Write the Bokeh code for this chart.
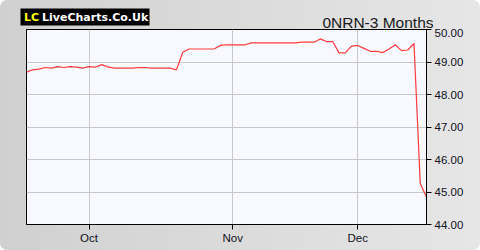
from bokeh.plotting import figure
from bokeh.layouts import column
from bokeh.models import FixedTicker, Range1d, PrintfTickFormatter
from bokeh.core.properties import value
from bokeh.embed import file_html
from bokeh.resources import INLINE

# Closing prices, one per trading day
prices = [
    48.69, 48.76, 48.78, 48.83, 48.81, 48.86, 48.83, 48.86, 48.84, 48.81,
    48.86, 48.84, 48.92, 48.85, 48.81, 48.81, 48.81, 48.81, 48.83, 48.83,
    48.81, 48.81, 48.81, 48.81, 48.76, 49.30, 49.40, 49.40, 49.40, 49.40,
    49.40, 49.51, 49.53, 49.53, 49.53, 49.53, 49.59, 49.59, 49.59, 49.59,
    49.59, 49.59, 49.59, 49.59, 49.61, 49.61, 49.61, 49.71, 49.63, 49.63,
    49.28, 49.28, 49.49, 49.51, 49.42, 49.33, 49.33, 49.29, 49.40, 49.53,
    49.35, 49.37, 49.57, 45.26, 44.84,
]
month_labels = ["Oct", "Nov", "Dec"]
month_first_index = [10, 33, 53]
price_ticks = [44, 45, 46, 47, 48, 49, 50]
title_text = "0NRN-3 Months"
logo_lc = "LC"
logo_name = "LiveCharts.Co.Uk"

x = list(range(len(prices)))

W = 480
HEAD_H = 28
MAIN_H = 250 - HEAD_H

# ---- header strip (pixel coordinates, y downward) ----
head = figure(width=W, height=HEAD_H, output_backend="svg", toolbar_location=None,
              x_range=Range1d(0, W), y_range=Range1d(HEAD_H, 0),
              x_axis_type=None, y_axis_type=None,
              min_border_left=0, min_border_right=0, min_border_top=0, min_border_bottom=0)
head.outline_line_color = None
head.background_fill_alpha = 0
head.border_fill_alpha = 0
head.xgrid.visible = False
head.ygrid.visible = False
head.quad(left=[20], right=[149], top=[8], bottom=[25], fill_color="black", line_color=None)
head.text(x=[23.5], y=[16.8], text=[logo_lc], text_color="#ffff00",
          text_font=value("DejaVu Sans"), text_font_style="bold",
          text_font_size=value("11px"), text_align="left", text_baseline="middle")
head.text(x=[41.5], y=[16.8], text=[logo_name], text_color="white",
          text_font=value("DejaVu Sans"), text_font_style="bold",
          text_font_size=value("11px"), text_align="left", text_baseline="middle")
head.text(x=[433], y=[21.5], text=[title_text], text_color="#1a1a1a",
          text_font=value("Liberation Sans"), text_font_size=value("15.5px"),
          text_align="right", text_baseline="alphabetic")

# ---- main chart ----
p = figure(width=W, height=MAIN_H, output_backend="svg", toolbar_location=None,
           x_range=Range1d(0, len(prices) - 1), y_range=Range1d(price_ticks[0], price_ticks[-1]),
           x_axis_location="below", y_axis_location="right",
           min_border_left=26, min_border_right=54, min_border_top=1, min_border_bottom=26)
p.border_fill_alpha = 0
p.background_fill_color = "#f8f8ff"
p.outline_line_color = "black"
p.outline_line_width = 1

p.line(x, prices, line_color="#ff3b3b", line_width=1.2)

p.xgrid.ticker = FixedTicker(ticks=month_first_index)
p.ygrid.ticker = FixedTicker(ticks=price_ticks)
p.xgrid.grid_line_color = "#c8c8c8"
p.ygrid.grid_line_color = "#c8c8c8"

xa = p.xaxis[0]
xa.ticker = FixedTicker(ticks=month_first_index)
xa.major_label_overrides = {i: m for i, m in zip(month_first_index, month_labels)}
ya = p.yaxis[0]
ya.ticker = FixedTicker(ticks=price_ticks)
ya.formatter = PrintfTickFormatter(format="%.2f")
for ax in (xa, ya):
    ax.axis_line_color = "black"
    ax.major_tick_line_color = "black"
    ax.major_tick_in = 0
    ax.major_tick_out = 5
    ax.minor_tick_line_color = None
    ax.major_label_text_font = "Liberation Sans"
    ax.major_label_text_font_size = "11.5px"
    ax.major_label_text_color = "#111122"
    ax.major_label_standoff = 3
xa.major_label_standoff = 2

# keep each figure's frame independent inside the column
for fig in (head, p):
    if "frame_align" in fig.properties():
        fig.frame_align = False

layout = column(head, p, spacing=0)
layout.styles = {"background": "linear-gradient(to right, #d0d0d0, #e6e6e6)",
                 "border-radius": "7px"}

open("out.html", "w").write(file_html(layout, INLINE))
